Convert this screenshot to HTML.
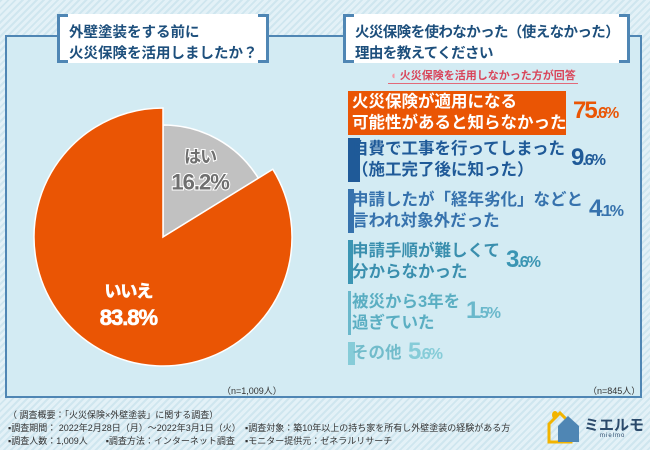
<!DOCTYPE html>
<html><head><meta charset="utf-8">
<style>
*{margin:0;padding:0;box-sizing:border-box}
body{width:650px;height:450px;overflow:hidden;font-family:"Liberation Sans","Noto Sans CJK JP",sans-serif;
background:repeating-linear-gradient(135deg,#cfe6ef 0 2px,#e3f1f7 2px 5px);position:relative}
.frame{position:absolute;left:5px;top:35px;width:637px;height:363px;background:#d3ebf3;border:2px solid #4f86b4}
.tbox{position:absolute;background:#fff;color:#1d4f7c;font-size:14.5px;font-weight:bold;line-height:21px;padding:9px 0 0 12px;white-space:nowrap}
.tbox:before,.tbox:after{content:"";position:absolute;top:0;bottom:0;width:8px;border:3px solid #4f86b4}
.tbox:before{left:0;border-right:none}.tbox:after{right:0;border-left:none}
.row{position:absolute;left:348px}
.lbl{position:absolute;left:4px;font-size:16.5px;font-weight:bold;line-height:21px;white-space:nowrap}
.pct{position:absolute;font-size:24px;font-weight:bold;letter-spacing:-2px;white-space:nowrap}
.pct small{font-size:16px}
.foot{position:absolute;font-size:9px;color:#333;white-space:nowrap}
</style></head><body>
<div class="frame"></div>
<div class="tbox" style="left:57px;top:14px;width:212px;height:49px">外壁塗装をする前に<br>火災保険を活用しましたか？</div>
<div class="tbox" style="left:343px;top:14px;width:287px;height:49px;letter-spacing:-0.6px">火災保険を使わなかった（使えなかった）<br>理由を教えてください</div>
<div style="position:absolute;left:388px;top:67px;font-size:11px;font-weight:bold;color:#d9455a;border-bottom:1px solid #e26a7a;padding:0 2px"><span style="color:#f29aa8">◖</span> 火災保険を活用しなかった方が回答</div>

<svg id="pie" width="650" height="450" style="position:absolute;left:0;top:0"></svg>

<div style="position:absolute;left:222px;top:384px;font-size:9px;color:#333">（n=1,009人）</div>
<div style="position:absolute;left:588px;top:384px;font-size:9px;color:#333">（n=845人）</div>

<div class="foot" style="left:8px;top:408px">（ 調査概要：「火災保険×外壁塗装」に関する調査）</div>
<div class="foot" style="left:8px;top:421px">▪調査期間： 2022年2月28日（月）～2022年3月1日（火）</div>
<div class="foot" style="left:8px;top:434px">▪調査人数：1,009人　　▪調査方法：インターネット調査</div>
<div class="foot" style="left:245px;top:421px">▪調査対象：築10年以上の持ち家を所有し外壁塗装の経験がある方</div>
<div class="foot" style="left:245px;top:434px">▪モニター提供元：ゼネラルリサーチ</div>
<div style="position:absolute;left:546px;top:410px">
<svg width="36" height="34"><path d="M3 14 L14 3 L25 14 V32 H3Z" fill="none" stroke="#f2b400" stroke-width="3"/><path d="M12 16 L22 6 L33 16 V32 H12Z" fill="#4f86b4"/><ellipse cx="9" cy="5" rx="3" ry="4" fill="#f2b400"/></svg>
<span style="position:absolute;left:38px;top:4px;font-size:15px;font-weight:bold;color:#2b4a6b;white-space:nowrap">ミエルモ</span>
<span style="position:absolute;left:54px;top:23px;font-size:6px;color:#2b4a6b;letter-spacing:1px">mielmo</span></div>

<script>
const pieLabels=["はい","いいえ"];
const pieValues=[16.2,83.8];
const reasonLabels=[["火災保険が適用になる","可能性があると知らなかった"],["自費で工事を行ってしまった","（施工完了後に知った）"],["申請したが「経年劣化」などと","言われ対象外だった"],["申請手順が難しくて","分からなかった"],["被災から3年を","過ぎていた"],["その他"]];
const reasonValues=[75.6,9.6,4.1,3.6,1.5,5.6];

const NS="http://www.w3.org/2000/svg";
const svg=document.getElementById('pie');
const cx=163,cy=237;
const radii=[112,129];
const colors=["#c1c1c1","#ea5504"];
const labelR=[0.68,0.55];
const labelDy=[[-8,19],[-2,26]];
const total=pieValues.reduce((a,b)=>a+b,0);
function pt(r,a){return [cx+r*Math.sin(a),cy-r*Math.cos(a)];}
let a0=0;
pieValues.forEach((v,i)=>{
  const a1=a0+v/total*2*Math.PI,r=radii[i];
  const p0=pt(r,a0),p1=pt(r,a1),large=(a1-a0)>Math.PI?1:0;
  const p=document.createElementNS(NS,'path');
  p.setAttribute('d',`M${cx},${cy} L${p0[0]},${p0[1]} A${r},${r} 0 ${large} 1 ${p1[0]},${p1[1]} Z`);
  p.setAttribute('fill',colors[i]);p.setAttribute('stroke','#fff');p.setAttribute('stroke-width','1.5');
  
  
  svg.appendChild(p);
  const mid=(a0+a1)/2;
  const c=pt(r*labelR[i],mid);
  [[pieLabels[i],labelDy[i][0],17],[v.toFixed(1)+"%",labelDy[i][1],22]].forEach((t,k)=>{
    const tx=document.createElementNS(NS,'text');
    tx.setAttribute('x',c[0]);tx.setAttribute('y',c[1]+t[1]);
    tx.setAttribute('text-anchor','middle');tx.setAttribute('font-size',t[2]);tx.setAttribute('font-weight','bold');
    tx.setAttribute('font-family','"Liberation Sans","Noto Sans CJK JP",sans-serif');
    tx.setAttribute('letter-spacing','-1');
    tx.setAttribute('fill',i==0?'#6f6f6f':'#fff');
    tx.setAttribute('stroke','#fff');tx.setAttribute('stroke-width',i==0?'2':'0.6');
    tx.setAttribute('paint-order','stroke');
    
    
    tx.textContent=t[0];svg.appendChild(tx);
  });
  a0=a1;
});

const barColors=["#ea5504","#1f5a98","#3672ad","#3a95b3","#6ab8cb","#86ccd8"];
const textColors=["#fff","#1f5a98","#3672ad","#3a8fae","#5aaec2","#72bccb"];
const rowTops=[92,139,190,241,292,343];
function barWidth(v){return v>50?v*2.88:v*1.05+1.5;}
reasonValues.forEach((v,i)=>{
  const row=document.createElement('div');row.className='row';row.style.top=rowTops[i]+'px';
  
  
  const h=reasonLabels[i].length*21;
  const bar=document.createElement('div');
  bar.style.cssText=`position:absolute;left:0;top:-1px;width:${barWidth(v)}px;height:${h+2}px;background:${barColors[i]}`;
  
  
  row.appendChild(bar);
  const lbl=document.createElement('div');lbl.className='lbl';lbl.style.color=textColors[i];lbl.style.top='0';
  lbl.innerHTML=reasonLabels[i].join('<br>');
  
  
  row.appendChild(lbl);
  document.body.appendChild(row);
  const w=lbl.offsetWidth+4;
  const pc=document.createElement('div');pc.className='pct';pc.style.color=barColors[i];
  pc.style.left=Math.max(w,barWidth(v))+6+'px';pc.style.top=(h/2-16)+'px';
  const s=v.toFixed(1).split('.');
  pc.innerHTML=s[0]+'<small>.'+s[1]+'%</small>';
  
  
  row.appendChild(pc);
});
</script>
</body></html>
